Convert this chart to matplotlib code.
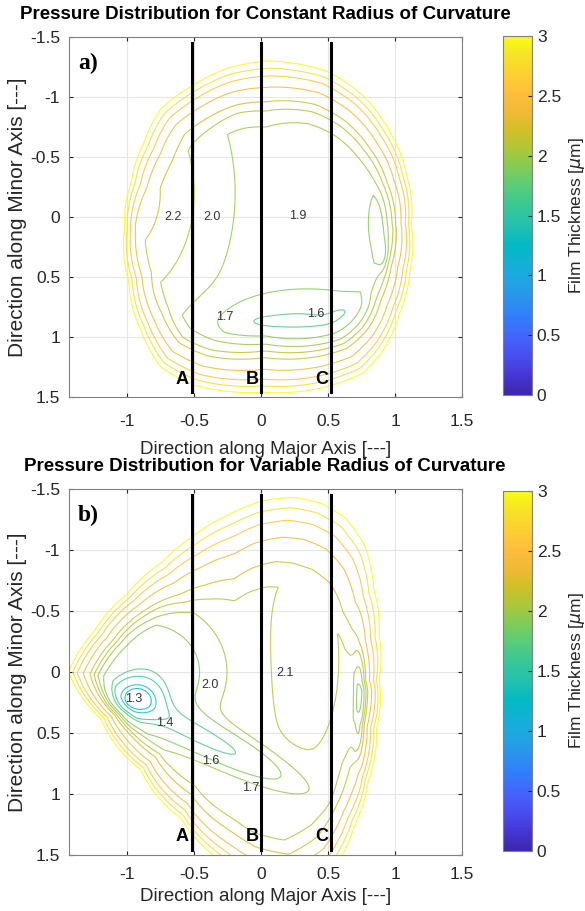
import numpy as np
import matplotlib
matplotlib.use('Agg')
import matplotlib.pyplot as plt
from matplotlib.colors import LinearSegmentedColormap, Normalize
import matplotlib.cm as cm

plt.rcParams['font.family'] = ['Liberation Sans', 'DejaVu Sans']
plt.rcParams['axes.unicode_minus'] = False

# parula-like colormap (subset of MATLAB table)
parula_rgb = [
    [0.2422, 0.1504, 0.6603], [0.2706, 0.2147, 0.8364], [0.2813, 0.3006, 0.9414],
    [0.2699, 0.3892, 0.9906], [0.1963, 0.4847, 0.9892], [0.1687, 0.5703, 0.9359],
    [0.1248, 0.6459, 0.8883], [0.0689, 0.6948, 0.8394], [0.0067, 0.7312, 0.7660],
    [0.1408, 0.7584, 0.6842], [0.2161, 0.7843, 0.5923], [0.3406, 0.8008, 0.4789],
    [0.5044, 0.7993, 0.3480], [0.6720, 0.7793, 0.2227], [0.8203, 0.7498, 0.1535],
    [0.9393, 0.7288, 0.2100], [0.9956, 0.7434, 0.2371], [0.9892, 0.8136, 0.1885],
    [0.9610, 0.8890, 0.1537], [0.9769, 0.9839, 0.0805]]
parula = LinearSegmentedColormap.from_list('parula', parula_rgb)

levels = [1.3, 1.4, 1.6, 1.7, 1.9, 2.0, 2.1, 2.2, 2.4, 2.6, 2.8, 3.0]
cbar_ticks = [0, 0.5, 1, 1.5, 2, 2.5, 3]

# rim profile: normalized distance inside the 3.0 contour -> fraction of rise
prof_t = [-1.0, -0.7, -0.47, -0.32, -0.18, 0.0, 2.0]
prof_s = [0.0, 0.12, 0.30, 0.47, 0.65, 1.0, 4.0]

# ---- panel a: constant radius of curvature ----
center_a = (0.04, 0.08)
edge_xa = [-1.02, -0.97, -0.875, -0.75, -0.52, -0.25, 0.055, 0.5, 0.76, 0.96, 1.085, 1.12,
           1.11, 1.035, 0.91, 0.76, 0.5, 0.0, -0.5, -0.75, -0.9, -0.99]
edge_ya = [0.1, -0.29, -0.62, -0.9, -1.09, -1.24, -1.30, -1.21, -1.01, -0.71, -0.35, 0.06,
           0.45, 0.80, 1.11, 1.30, 1.41, 1.46, 1.40, 1.25, 0.94, 0.53]
rim_ang_a = [-180, -90, 0, 90]
rim_w_a = [0.13, 0.45, 0.2, 0.4]
base_a = 1.93
# bumps: x0, y0, amplitude, width along, width across, angle (deg)
bump_x_a = [-1.1, 0.25, 0.0, 0.3, 0.6, 0.9, 0.86]
bump_y_a = [-0.2, 0.86, 0.87, 0.86, 0.79, 0.3, 0.05]
bump_h_a = [0.34, -0.19, -0.11, -0.12, -0.13, -0.2, -0.08]
bump_sa_a = [0.72, 0.55, 0.2, 0.2, 0.16, 0.04, 0.06]
bump_sb_a = [1.1, 0.2, 0.06, 0.06, 0.07, 0.12, 0.25]
bump_rot_a = [0, 0, 0, 0, -30, 0, 0]
labels_a = ['2.2', '2.0', '1.9', '1.7', '1.6']
label_xa = [-0.66, -0.37, 0.27, -0.27, 0.41]
label_ya = [0.0, 0.0, -0.01, 0.83, 0.81]

# ---- panel b: variable radius of curvature ----
center_b = (-0.2, 0.15)
edge_xb = [-1.44, -1.25, -1.0, -0.74, -0.51, -0.24, 0.0, 0.25, 0.45, 0.63, 0.77, 0.84,
           0.88, 0.88, 0.86, 0.80, 0.70, 0.55, 0.3, 0.0, -0.3, -0.6, -0.9, -1.2]
edge_yb = [0.0, -0.33, -0.64, -0.90, -1.11, -1.29, -1.40, -1.43, -1.38, -1.26, -1.04, -0.68,
           -0.30, 0.06, 0.47, 0.89, 1.25, 1.6, 1.8, 1.75, 1.55, 1.2, 0.8, 0.38]
rim_ang_b = [-180, -135, -90, 0, 90, 135]
rim_w_b = [0.25, 0.3, 0.55, 0.14, 0.3, 0.25]
base_b = 2.08
bump_x_b = [-0.93, -0.85, -0.35, 0.74, 0.3]
bump_y_b = [0.22, 0.0, 0.58, 0.3, -0.1]
bump_h_b = [-0.55, -0.33, -0.4, -0.25, 0.07]
bump_sa_b = [0.18, 0.5, 0.65, 0.05, 0.25]
bump_sb_b = [0.16, 0.5, 0.14, 0.65, 0.7]
bump_rot_b = [0, 0, 29, 0, 0]
labels_b = ['1.3', '1.4', '1.6', '1.7', '2.0', '2.1']
label_xb = [-0.955, -0.72, -0.38, -0.08, -0.38, 0.18]
label_yb = [0.22, 0.42, 0.73, 0.95, 0.11, 0.01]

cut_x = [-0.52, 0.0, 0.52]
cut_names = ['A', 'B', 'C']

xg = np.linspace(-1.6, 1.6, 400)
yg = np.linspace(-1.6, 2.0, 450)
X, Y = np.meshgrid(xg, yg)


def film(center, ex, ey, ang, wv, base, bx, by, bh, bsa, bsb, brot):
    xc, yc = center
    pb = np.arctan2(np.array(ey) - yc, np.array(ex) - xc)
    rb = np.hypot(np.array(ex) - xc, np.array(ey) - yc)
    o = np.argsort(pb)
    phi = np.arctan2(Y - yc, X - xc)
    R = np.interp(phi, pb[o], rb[o], period=2 * np.pi)
    W = np.interp(phi, np.radians(ang), wv, period=2 * np.pi)
    t = (np.hypot(X - xc, Y - yc) / R - 1) / W
    s = np.interp(t, prof_t, prof_s)
    h0 = np.full_like(X, base)
    for x0, y0, a, sa, sb, rot in zip(bx, by, bh, bsa, bsb, brot):
        c, sn = np.cos(np.radians(rot)), np.sin(np.radians(rot))
        u = (X - x0) * c + (Y - y0) * sn
        v = -(X - x0) * sn + (Y - y0) * c
        h0 += a * np.exp(-(u / sa) ** 2 - (v / sb) ** 2)
    return h0 + (3.0 - h0) * s


H_a = film(center_a, edge_xa, edge_ya, rim_ang_a, rim_w_a, base_a,
           bump_x_a, bump_y_a, bump_h_a, bump_sa_a, bump_sb_a, bump_rot_a)
H_b = film(center_b, edge_xb, edge_yb, rim_ang_b, rim_w_b, base_b,
           bump_x_b, bump_y_b, bump_h_b, bump_sa_b, bump_sb_b, bump_rot_b)

fig = plt.figure(figsize=(5.85, 9.11), dpi=100)
ax_a = fig.add_axes([0.1171, 0.5642, 0.6726, 0.3952])
ax_b = fig.add_axes([0.1171, 0.0615, 0.6726, 0.4018])
cb_a = fig.add_axes([0.8598, 0.5664, 0.0496, 0.394])
cb_b = fig.add_axes([0.8598, 0.0659, 0.0496, 0.395])

panels = [
    (ax_a, cb_a, H_a, 'Pressure Distribution for Constant Radius of Curvature', 'a)',
     labels_a, label_xa, label_ya, 12, 9),
    (ax_b, cb_b, H_b, 'Pressure Distribution for Variable Radius of Curvature', 'b)',
     labels_b, label_xb, label_yb, 9, 4),
]

for ax, cax, H, title, tag, labs, lx, ly, xpad, xlpad in panels:
    norm = Normalize(0, 3)
    ax.contour(X, Y, H, levels=levels, cmap=parula, norm=norm, linewidths=0.8,
               alpha=0.85, zorder=2)
    ax.set_xlim(-1.44, 1.5)
    ax.set_ylim(1.5, -1.5)
    ax.set_xticks([-1, -0.5, 0, 0.5, 1, 1.5])
    ax.set_xticklabels(['-1', '-0.5', '0', '0.5', '1', '1.5'])
    ax.set_yticks([-1.5, -1, -0.5, 0, 0.5, 1, 1.5])
    ax.set_yticklabels(['-1.5', '-1', '-0.5', '0', '0.5', '1', '1.5'])
    ax.grid(True, color='0.9', linewidth=0.8)
    ax.set_axisbelow(True)
    ax.tick_params(direction='in', length=3, labelsize=12.5, colors='0.15',
                   top=True, right=True, pad=6)
    ax.tick_params(axis='x', pad=xpad)
    for sp in ax.spines.values():
        sp.set_color('0.5')
    ax.set_xlabel('Direction along Major Axis [---]', fontsize=13.5, color='0.15',
                  labelpad=xlpad)
    ax.set_ylabel('Direction along Minor Axis [---]', fontsize=15, color='0.15', labelpad=2)
    ax.set_title(title, fontsize=13.5, fontweight='bold', pad=13)
    for xv, nm in zip(cut_x, cut_names):
        ax.plot([xv, xv], [-1.45, 1.46], color='black', linewidth=2.2, zorder=4)
        ax.text(xv - 0.07, 1.35, nm, fontsize=13, fontweight='bold',
                ha='center', va='center', zorder=5)
    for t, x, y in zip(labs, lx, ly):
        ax.text(x, y, t, fontsize=9, ha='center', va='center', color='0.2', zorder=3)
    ax.text(-1.37, -1.28, tag, fontsize=17, fontweight='bold', family='Liberation Serif',
            ha='left', va='center', zorder=5)

    sm = cm.ScalarMappable(norm=norm, cmap=parula)
    cb = fig.colorbar(sm, cax=cax, ticks=cbar_ticks, format='%g')
    cb.ax.tick_params(direction='in', length=3, labelsize=12.5, colors='0.15')
    cb.outline.set_edgecolor('0.5')
    cb.set_label(r'Film Thickness [$\mu$m]', fontsize=12.5, color='0.15', labelpad=4)

fig.savefig('out.png', dpi=100)
